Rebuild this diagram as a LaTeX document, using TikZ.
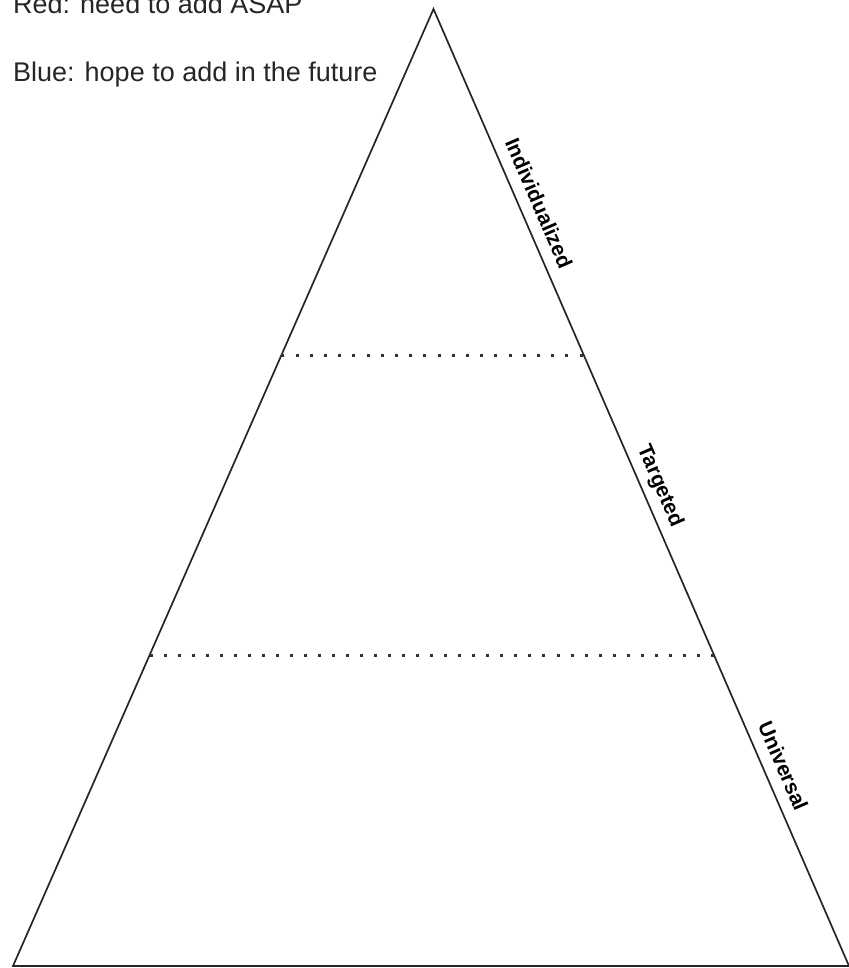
\documentclass[tikz,border=0pt]{standalone}
\usepackage{fontspec}
\setmainfont{Liberation Sans}
\usetikzlibrary{positioning}

\begin{document}
\begin{tikzpicture}[
  x=1pt, y=-1pt,
  edge/.style={line width=1.7pt, line join=miter, draw=black!85},
  tier/.style={line width=3pt, dash pattern=on 3pt off #1, draw=black!80},
  legend/.style={anchor=base west, inner sep=0pt, text=black!85, font=\fontsize{27}{31}\selectfont},
  level/.style={sloped, anchor=base, inner sep=0pt, yshift=12pt, font=\bfseries\fontsize{21}{24}\selectfont},
]
  \useasboundingbox (0,0) rectangle (848,968);

  \coordinate (apex) at (433.5,9);
  \coordinate (left) at (13,966);
  \coordinate (right) at (849,966);

  % legend
  \node[legend] (red) at (13,14) {Red: need to add ASAP};
  \node[legend] (blue) at (13,82) {Blue: hope to add in the future};

  % pyramid
  \draw[edge] (apex) -- (left) -- (right) -- cycle;

  \path (apex) -- (left) coordinate[pos=0.3616] (upperL) coordinate[pos=0.6751] (lowerL);
  \path (apex) -- (right) coordinate[pos=0.3616] (upperR) coordinate[pos=0.6751] (lowerR);
  \draw[tier=11.2pt] (upperL) -- (upperR);
  \draw[tier=11.03pt] (lowerL) -- (lowerR);

  % tiers
  \path (apex) -- (right)
    node[level, pos=0.211] (indiv) {Individualized}
    node[level, pos=0.506] (target) {Targeted}
    node[level, pos=0.799] (universal) {Universal};
\end{tikzpicture}
\end{document}
